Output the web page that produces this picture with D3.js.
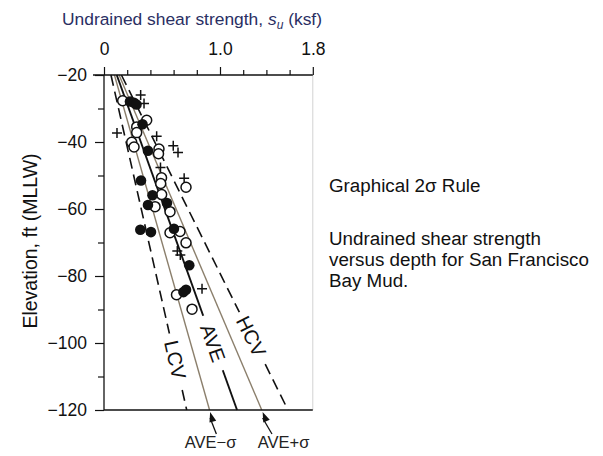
<!DOCTYPE html>
<html><head><meta charset="utf-8">
<script src="https://cdn.jsdelivr.net/npm/d3@7"></script>
<style>
body{margin:0;background:#fff}
svg{display:block}
text{font-family:"Liberation Sans",Arial,Helvetica,sans-serif}
</style>
</head><body>
<svg id="c" width="603" height="456"></svg>
<script>
// ---- data ----
const xMajorTicks = [0, 1.0, 1.8];
const xMajorLabels = ["0", "1.0", "1.8"];
const xMinorTicks = [0.2, 0.4, 0.6, 0.8, 1.2, 1.4, 1.6];
const yMajorTicks = [-20, -40, -60, -80, -100, -120];
const yMinorTicks = [-30, -50, -70, -90, -110];

// reference lines: su (ksf) at elevation -20 and -120
const lineNames  = ["LCV", "AVE−σ", "AVE", "AVE+σ", "HCV"];
const lineTop    = [0.06, 0.09, 0.11, 0.13, 0.15];
const lineBottom = [0.713, 0.91, 1.147, 1.36, 1.586];
const lineKind   = ["dash", "thin", "ave", "thin", "dash"];

// on-line labels: name, elevation of label centre
const inlineLabels = ["LCV", "AVE", "HCV"];
const inlineElev   = [-105, -100, -98];

// arrow labels below the plot
const arrowLabels = ["AVE−σ", "AVE+σ"];

// data points
const filledSu   = [0.224, 0.259, 0.28, 0.332, 0.379, 0.319, 0.418, 0.379, 0.543, 0.313, 0.405, 0.603, 0.735, 0.707, 0.685];
const filledElev = [-27.9, -28.3, -28.8, -34.7, -42.6, -51.5, -55.9, -58.8, -58.2, -66.2, -66.9, -65.9, -76.8, -84.1, -84.8];
const openSu     = [0.161, 0.368, 0.282, 0.282, 0.239, 0.259, 0.474, 0.470, 0.496, 0.489, 0.707, 0.497, 0.44, 0.569, 0.569, 0.655, 0.707, 0.625, 0.759];
const openElev   = [-27.7, -33.5, -35.5, -37.2, -40.1, -41.5, -42.1, -43.5, -50.7, -52.4, -53.5, -55.7, -59.3, -60.8, -67.1, -66.7, -70.1, -85.6, -89.9];
const plusSu     = [0.316, 0.345, 0.112, 0.454, 0.597, 0.638, 0.487, 0.691, 0.632, 0.658, 0.845];
const plusElev   = [-26.0, -28.5, -37.3, -38.3, -41.1, -43.1, -47.6, -50.8, -72.5, -73.7, -83.8];

// ---- drawing ----
const svg = d3.select("#c");
const x = d3.scaleLinear().domain([0, 1.8]).range([104, 312.8]);
const y = d3.scaleLinear().domain([-20, -120]).range([75, 410]);
const ink = "#111";

// right faint frame
svg.append("line").attr("x1", x(1.8)).attr("x2", x(1.8)).attr("y1", y(-20)).attr("y2", y(-120))
  .attr("stroke", "#d2d2d2").attr("stroke-width", 1);

// reference lines
const lineG = svg.append("g");
lineNames.forEach((n, i) => {
  const l = lineG.append("line")
    .attr("x1", x(lineTop[i])).attr("y1", y(-20))
    .attr("x2", x(lineBottom[i])).attr("y2", y(-120));
  if (lineKind[i] === "dash") l.attr("stroke", ink).attr("stroke-width", 1.6).attr("stroke-dasharray", "11,6");
  else if (lineKind[i] === "thin") l.attr("stroke", "#8b7f6c").attr("stroke-width", 1.4);
  else l.attr("stroke", ink).attr("stroke-width", 1.9);
});

function suAt(i, elev) {
  const t = (elev - (-20)) / (-120 - (-20));
  return lineTop[i] + t * (lineBottom[i] - lineTop[i]);
}

// inline labels with gap
inlineLabels.forEach((lab, k) => {
  const i = lineNames.indexOf(lab);
  const e = inlineElev[k];
  const px = x(suAt(i, e)), py = y(e);
  const dx = x(lineBottom[i]) - x(lineTop[i]), dy = y(-120) - y(-20);
  const ang = Math.atan2(dy, dx) * 180 / Math.PI;
  const g = svg.append("g").attr("transform", `translate(${px},${py}) rotate(${ang})`);
  const fs = 20;
  const w = lab === "AVE" ? 58 : 54;
  g.append("rect").attr("x", -w / 2).attr("y", -8).attr("width", w).attr("height", 16).attr("fill", "#fff");
  g.append("text").attr("text-anchor", "middle").attr("dy", "0.36em")
    .attr("font-size", fs).attr("fill", ink).text(lab);
});

// arrows below plot
const arrowG = svg.append("g");
arrowLabels.forEach((lab, k) => {
  const i = lineNames.indexOf(lab);
  const slope = (x(lineBottom[i]) - x(lineTop[i])) / (y(-120) - y(-20));
  const y0 = y(-120) + 2, y1 = y(-120) + 24;
  const xb = x(lineBottom[i]);
  const xa = xb + slope * (y0 - y(-120)), xz = xb + slope * (y1 - y(-120));
  arrowG.append("line").attr("x1", xz).attr("y1", y1).attr("x2", xa).attr("y2", y0 + 6)
    .attr("stroke", ink).attr("stroke-width", 1.3);
  const ang = Math.atan2(y1 - y0, xz - xa);
  const hl = 10, hw = 3.5;
  const bx = xa + Math.cos(ang) * hl, by = y0 + Math.sin(ang) * hl;
  const nx = -Math.sin(ang) * hw, ny = Math.cos(ang) * hw;
  arrowG.append("path").attr("d", `M${xa},${y0} L${bx + nx},${by + ny} L${bx - nx},${by - ny} Z`).attr("fill", ink);
  svg.append("text").attr("y", 448)
    .attr("text-anchor", k === 0 ? "middle" : "start").attr("font-size", 16.5).attr("fill", "#222")
    .attr("x", k === 0 ? xb + 1 : xb - 4)
    .text(lab);
});

// axes
const axG = svg.append("g");
axG.append("line").attr("x1", 93).attr("x2", x(1.8)).attr("y1", y(-20)).attr("y2", y(-20)).attr("stroke", ink).attr("stroke-width", 1.3);
axG.append("line").attr("x1", x(0)).attr("x2", x(1.8)).attr("y1", y(-120)).attr("y2", y(-120)).attr("stroke", ink).attr("stroke-width", 1.3);
axG.append("line").attr("x1", x(0)).attr("x2", x(0)).attr("y1", y(-20)).attr("y2", y(-120)).attr("stroke", ink).attr("stroke-width", 1.3);

const topMinor = svg.append("g").attr("transform", `translate(0,${y(-20)})`)
  .call(d3.axisTop(x).tickValues(xMinorTicks).tickSize(5).tickFormat(""));
const topMajor = svg.append("g").attr("transform", `translate(0,${y(-20)})`)
  .call(d3.axisTop(x).tickValues(xMajorTicks).tickSize(8).tickPadding(12)
    .tickFormat((d, i) => xMajorLabels[i]));
const leftMinor = svg.append("g").attr("transform", `translate(${x(0)},0)`)
  .call(d3.axisLeft(y).tickValues(yMinorTicks).tickSize(6).tickFormat(""));
const leftMajor = svg.append("g").attr("transform", `translate(${x(0)},0)`)
  .call(d3.axisLeft(y).tickValues(yMajorTicks).tickSize(9).tickPadding(8));
[topMinor, topMajor, leftMinor, leftMajor].forEach(g => {
  g.select(".domain").remove();
  g.selectAll(".tick line").attr("stroke", ink).attr("stroke-width", 1.2);
  g.selectAll(".tick text").attr("font-size", 17.5).attr("fill", ink)
    .attr("font-family", "'Liberation Sans',Arial,sans-serif");
});

// data points
const ptG = svg.append("g");
plusSu.forEach((v, i) => {
  const cx = x(v), cy = y(plusElev[i]), s = 5;
  ptG.append("path").attr("d", `M${cx - s},${cy} H${cx + s} M${cx},${cy - s} V${cy + s}`)
    .attr("stroke", ink).attr("stroke-width", 1.5).attr("fill", "none");
});
openSu.forEach((v, i) => {
  ptG.append("circle").attr("cx", x(v)).attr("cy", y(openElev[i])).attr("r", 5)
    .attr("fill", "#fff").attr("stroke", ink).attr("stroke-width", 1.5);
});
filledSu.forEach((v, i) => {
  ptG.append("circle").attr("cx", x(v)).attr("cy", y(filledElev[i])).attr("r", 5.3)
    .attr("fill", ink);
});

// titles
const t = svg.append("text").attr("x", 62).attr("y", 25).attr("font-size", 17.4).attr("fill", "#2a2f63");
t.append("tspan").text("Undrained shear strength, ");
t.append("tspan").attr("font-style", "italic").text("s");
t.append("tspan").attr("font-style", "italic").attr("font-size", 12).attr("dy", 4).text("u");
t.append("tspan").attr("dy", -4).text(" (ksf)");

svg.append("text").attr("transform", "translate(37,241) rotate(-90)")
  .attr("text-anchor", "middle").attr("font-size", 19.5).attr("fill", ink)
  .text("Elevation, ft (MLLW)");

const notes = ["Undrained shear strength", "versus depth for San Francisco", "Bay Mud."];
svg.append("text").attr("x", 329).attr("y", 192).attr("font-size", 18.8).attr("fill", ink).text("Graphical 2σ Rule");
notes.forEach((s, i) => svg.append("text").attr("x", 329).attr("y", 245 + i * 21)
  .attr("font-size", 18.8).attr("fill", ink).text(s));
</script>
</body></html>
